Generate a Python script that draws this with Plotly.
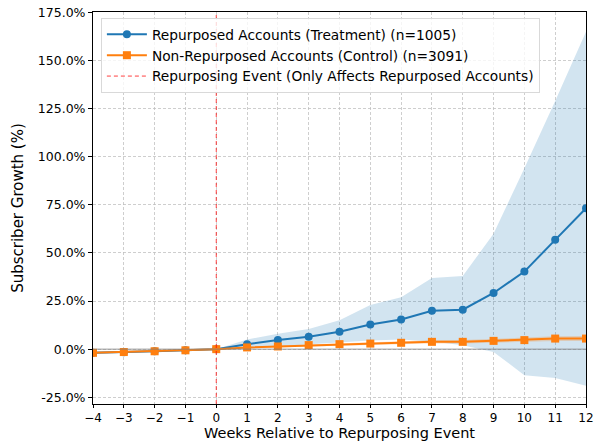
import plotly.graph_objects as go

weeks = list(range(-4, 13))
treat_mean = [-1.9, -1.6, -1.1, -0.6, 0.0, 2.6, 4.7, 6.4, 9.0, 12.8, 15.4, 19.9, 20.5, 29.2, 40.3, 56.8, 73.2]
treat_upper = [-1.4, -1.1, -0.7, -0.3, 0.0, 5.0, 8.0, 10.5, 15.0, 23.0, 27.0, 37.0, 38.0, 60.0, 94.0, 129.0, 165.0]
treat_lower = [-2.4, -2.1, -1.5, -0.9, 0.0, 0.5, 1.5, 2.5, 3.5, 4.5, 5.0, 4.0, 2.0, -1.5, -13.5, -15.0, -19.0]
ctrl_mean = [-1.9, -1.5, -1.1, -0.6, 0.0, 0.9, 1.4, 2.1, 2.6, 2.9, 3.3, 3.8, 3.8, 4.3, 4.7, 5.5, 5.5]
ctrl_upper = [-1.6, -1.2, -0.8, -0.4, 0.0, 1.3, 1.9, 2.7, 3.3, 3.6, 4.1, 4.6, 4.7, 5.3, 5.8, 6.7, 6.8]
ctrl_lower = [-2.2, -1.8, -1.4, -0.8, 0.0, 0.5, 0.9, 1.5, 1.9, 2.2, 2.5, 3.0, 2.9, 3.3, 3.6, 4.3, 4.2]
y_ticks = [-25, 0, 25, 50, 75, 100, 125, 150, 175]
y_ticklabels = ["-25.0%", "0.0%", "25.0%", "50.0%", "75.0%", "100.0%", "125.0%", "150.0%", "175.0%"]
x_range = [-4, 12]
y_range = [-28.5, 175.2]
event_week = 0
x_title = "Weeks Relative to Repurposing Event"
y_title = "Subscriber Growth (%)"

BLUE = "#1f77b4"
ORANGE = "#ff7f0e"
FONT = "DejaVu Sans"
GRID = "rgba(190,190,190,0.75)"

fig = go.Figure()

# CI bands
fig.add_trace(go.Scatter(x=weeks, y=treat_upper, mode="lines", line=dict(width=0),
                         showlegend=False, hoverinfo="skip"))
fig.add_trace(go.Scatter(x=weeks, y=treat_lower, mode="lines", line=dict(width=0),
                         fill="tonexty", fillcolor="rgba(31,119,180,0.2)",
                         showlegend=False, hoverinfo="skip"))
fig.add_trace(go.Scatter(x=weeks, y=ctrl_upper, mode="lines", line=dict(width=0),
                         showlegend=False, hoverinfo="skip"))
fig.add_trace(go.Scatter(x=weeks, y=ctrl_lower, mode="lines", line=dict(width=0),
                         fill="tonexty", fillcolor="rgba(255,127,14,0.25)",
                         showlegend=False, hoverinfo="skip"))

# zero line
fig.add_shape(type="line", xref="paper", yref="y", x0=0, x1=1, y0=0, y1=0,
              line=dict(color="rgba(128,128,128,0.8)", width=1))

fig.add_trace(go.Scatter(x=weeks, y=treat_mean, mode="lines+markers",
                         name="Repurposed Accounts (Treatment) (n=1005)",
                         line=dict(color=BLUE, width=2),
                         marker=dict(symbol="circle", size=8, color=BLUE)))
fig.add_trace(go.Scatter(x=weeks, y=ctrl_mean, mode="lines+markers",
                         name="Non-Repurposed Accounts (Control) (n=3091)",
                         line=dict(color=ORANGE, width=2),
                         marker=dict(symbol="square", size=8, color=ORANGE)))
fig.add_trace(go.Scatter(x=[event_week, event_week], y=y_range, mode="lines",
                         name="Repurposing Event (Only Affects Repurposed Accounts)",
                         line=dict(color="rgba(255,0,0,0.75)", width=1, dash="4px,3px"),
                         hoverinfo="skip"))

fig.update_layout(
    width=600, height=442,
    margin=dict(l=93, r=14, t=12, b=38),
    paper_bgcolor="white", plot_bgcolor="white",
    font=dict(family=FONT, size=13, color="black"),
    legend=dict(x=0.016, y=0.985, xanchor="left", yanchor="top",
                traceorder="normal",
                bgcolor="rgba(255,255,255,0.8)", bordercolor="#d9d9d9", borderwidth=1,
                font=dict(family=FONT, size=13.75), itemwidth=40,
                tracegroupgap=0),
    showlegend=True,
)
fig.add_annotation(text=x_title, xref="paper", yref="paper", x=0.5, y=-39 / 392,
                   xanchor="center", yanchor="bottom", showarrow=False,
                   font=dict(family=FONT, size=14.5, color="black"))
fig.update_xaxes(range=x_range, tickmode="linear", dtick=1, tick0=-4,
                 automargin=False,
                 showline=True, linecolor="black", linewidth=1, mirror=True,
                 ticks="outside", ticklen=3, tickcolor="black",
                 tickfont=dict(size=12),
                 showgrid=True, gridcolor=GRID, griddash="3px,2px", gridwidth=1,
                 zeroline=False)
fig.update_yaxes(range=y_range, tickvals=y_ticks, ticktext=y_ticklabels,
                 automargin=False,
                 showline=True, linecolor="black", linewidth=1, mirror=True,
                 ticks="outside", ticklen=4, tickcolor="black",
                 tickfont=dict(size=12.5),
                 showgrid=True, gridcolor=GRID, griddash="3px,2px", gridwidth=1,
                 zeroline=False,
                 title=dict(text=y_title, standoff=10, font=dict(size=15)))

fig.write_html("out.html", config={"displayModeBar": False},
               post_script="document.body.style.margin='0';")
